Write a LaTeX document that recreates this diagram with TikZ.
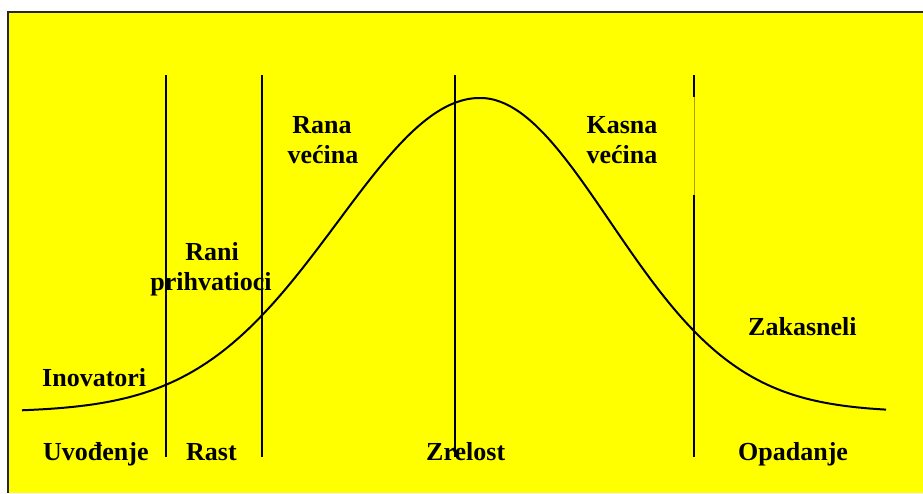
\documentclass[tikz,border=0pt]{standalone}
\usepackage{fontspec}
\setmainfont{Liberation Serif}
\definecolor{bgyellow}{RGB}{255,255,0}
\definecolor{framegray}{RGB}{40,40,40}
\definecolor{faintline}{RGB}{170,160,0}
\tikzset{
  lbl/.style={font=\fontsize{26}{30}\selectfont\bfseries, inner sep=0pt},
  vline/.style={line width=2pt, black},
  curveline/.style={line width=2pt, black},
}
\begin{document}
\begin{tikzpicture}[x=1pt,y=-1pt]
\useasboundingbox (0,0) rectangle (923,493);
\fill[white] (0,0) rectangle (923,493);
\fill[bgyellow] (8,12) rectangle (923,493);
\draw[framegray, line width=2pt] (8,493) -- (8,12) -- (923,12);
% vertical stage lines
\coordinate (v1t) at (166,75); \coordinate (v1b) at (166,457);
\coordinate (v2t) at (262,75); \coordinate (v2b) at (262,457);
\coordinate (v3t) at (455,75); \coordinate (v3b) at (455,457);
\coordinate (v4t) at (694,75); \coordinate (v4a) at (694,97);
\coordinate (v4c) at (694,195); \coordinate (v4b) at (694,457);
\draw[vline] (v1t) -- (v1b);
\draw[vline] (v2t) -- (v2b);
\draw[vline] (v3t) -- (v3b);
\draw[vline] (v4t) -- (v4a);
\draw[faintline, line width=0.8pt] (v4a) -- (v4c);
\draw[vline] (v4c) -- (v4b);
% curve
\draw[curveline] plot[domain=22:480, samples=120, smooth] (\x, {412-314*exp(-0.5*((\x-480)/142)^2)})
  -- plot[domain=480:886, samples=120, smooth] (\x, {412-314*exp(-0.5*((\x-480)/130)^2)});
% labels
\node[lbl, anchor=base west] (inov) at (42,386) {Inovatori};
\node[lbl, anchor=base] (rani1) at (212,260) {Rani};
\node[lbl, anchor=base] (rani2) at (211,290) {prihvatioci};
\node[lbl, anchor=base] (rana1) at (322,133) {Rana};
\node[lbl, anchor=base] (rana2) at (323,163) {većina};
\node[lbl, anchor=base] (kasna1) at (622,133) {Kasna};
\node[lbl, anchor=base] (kasna2) at (622,163) {većina};
\node[lbl, anchor=base west] (zak) at (748,335) {Zakasneli};
\node[lbl, anchor=base west] (uvo) at (43,460) {Uvođenje};
\node[lbl, anchor=base west] (rast) at (186,460) {Rast};
\node[lbl, anchor=base west] (zrel) at (426,460) {Zrelost};
\node[lbl, anchor=base west] (opad) at (738,460) {Opadanje};
\end{tikzpicture}
\end{document}
